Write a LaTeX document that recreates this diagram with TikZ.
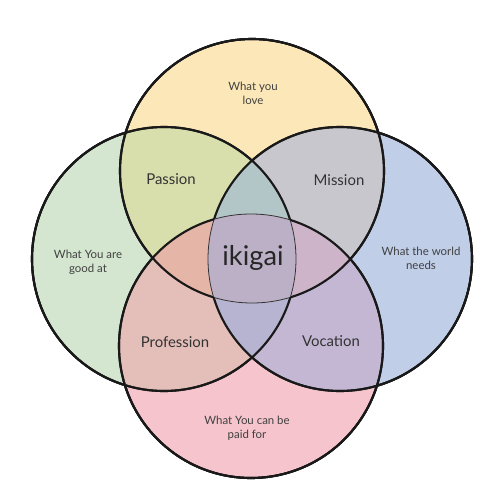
\documentclass[tikz,border=0pt]{standalone}
\usepackage{fontspec}
\setmainfont{Lato}
\definecolor{loveyellow}{HTML}{FCE7B8}
\definecolor{goodgreen}{HTML}{D4E6D0}
\definecolor{worldblue}{HTML}{C0CEE8}
\definecolor{paidpink}{HTML}{F5C4CC}
\definecolor{passioncol}{HTML}{D8DEAC}
\definecolor{missioncol}{HTML}{C8C7CD}
\definecolor{professioncol}{HTML}{E4BEB9}
\definecolor{vocationcol}{HTML}{C3B7D4}
\definecolor{upcol}{HTML}{B2C6C8}
\definecolor{leftcol}{HTML}{E5B5A8}
\definecolor{rightcol}{HTML}{CDB4C9}
\definecolor{downcol}{HTML}{B7B4D2}
\definecolor{ikigaicol}{HTML}{BBB0C6}
\tikzset{
	sketch/.style={line width=1.2pt, black!90},
	faint/.style={line width=0.45pt, black!80},
	smalltext/.style={font=\fontsize{6.5}{8}\selectfont, text=black!75, align=center},
	regiontext/.style={font=\fontsize{8.5}{10}\selectfont, text=black!80},
}
\begin{document}
\begin{tikzpicture}[x=0.02cm, y=-0.02cm]
			\useasboundingbox (0,0) rectangle (500,500);
			\def\rad{132}
			\coordinate (love) at (252,171);
			\coordinate (good) at (164,259);
			\coordinate (world) at (340,259);
			\coordinate (paid) at (251,346);
			% plain circles
			\fill[loveyellow] (love) circle[radius=\rad];
			\fill[goodgreen] (good) circle[radius=\rad];
			\fill[worldblue] (world) circle[radius=\rad];
			\fill[paidpink] (paid) circle[radius=\rad];
			% two at a time
			\begin{scope}
				\clip (love) circle[radius=\rad];
				\fill[passioncol] (good) circle[radius=\rad];
				\fill[missioncol] (world) circle[radius=\rad];
			\end{scope}
			\begin{scope}
				\clip (paid) circle[radius=\rad];
				\fill[professioncol] (good) circle[radius=\rad];
				\fill[vocationcol] (world) circle[radius=\rad];
			\end{scope}
			% three at a time
			\begin{scope}
				\clip (good) circle[radius=\rad];
				\clip (world) circle[radius=\rad];
				\fill[upcol] (love) circle[radius=\rad];
				\fill[downcol] (paid) circle[radius=\rad];
			\end{scope}
			\begin{scope}
				\clip (love) circle[radius=\rad];
				\clip (paid) circle[radius=\rad];
				\fill[leftcol] (good) circle[radius=\rad];
				\fill[rightcol] (world) circle[radius=\rad];
			\end{scope}
			\begin{scope}
				\clip (love) circle[radius=\rad];
				\clip (good) circle[radius=\rad];
				\clip (world) circle[radius=\rad];
				\fill[ikigaicol] (paid) circle[radius=\rad];
			\end{scope}
			% outlines, thin in the middle
			\foreach \a in {love,good,world,paid} {
				\draw[faint] (\a) circle[radius=\rad];
				\foreach \b in {love,good,world,paid} {
					\ifx\a\b\else
					\begin{scope}[even odd rule]
						\clip (-10,-10) rectangle (510,510) (\b) circle[radius=\rad];
						\draw[sketch] (\a) circle[radius=\rad];
					\end{scope}
					\fi
				}
			}
			\node[smalltext] (lovetext) at (253,93) {What you\\love};
			\node[smalltext] (goodtext) at (88,262) {What You are\\good at};
			\node[smalltext] (worldtext) at (421,258) {What the world\\needs};
			\node[smalltext] (paidtext) at (247,428) {What You can be\\paid for};
			\node[regiontext] (passion) at (171,179) {Passion};
			\node[regiontext] (mission) at (339,180) {Mission};
			\node[regiontext] (profession) at (175,342) {Profession};
			\node[regiontext] (vocation) at (331,341) {Vocation};
			\node[font=\fontsize{15.5}{18}\selectfont, text=black!85] (ikigai) at (253,258) {ikigai};
			\end{tikzpicture}
\end{document}
